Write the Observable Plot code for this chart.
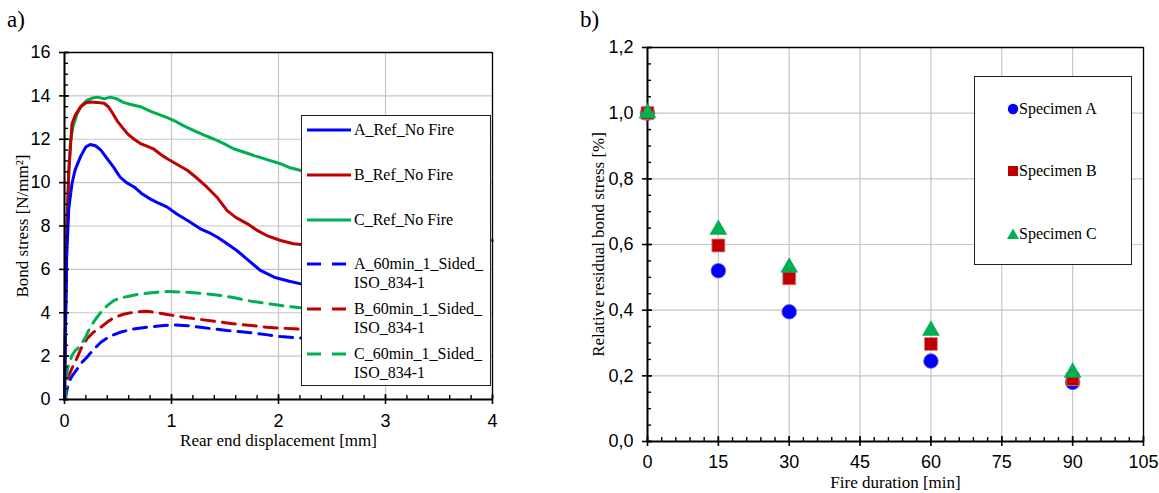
<!DOCTYPE html>
<html><head><meta charset="utf-8">
<script src="https://cdn.jsdelivr.net/npm/d3@7"></script>
<script src="https://cdn.jsdelivr.net/npm/@observablehq/plot@0.6"></script>
<style>
body{margin:0;background:#fff;}
#wrap{position:relative;width:1159px;height:493px;overflow:hidden;background:#fff;}
.pl{position:absolute;top:0;}
.panel{position:absolute;font-family:"Liberation Serif","Times New Roman",serif;font-size:23px;color:#000;line-height:1;}
.lg{position:absolute;background:#fff;border:1.5px solid #222;box-sizing:border-box;font-family:"Liberation Serif","Times New Roman",serif;font-size:16px;color:#000;}
.lg .t{position:absolute;line-height:19px;white-space:nowrap;}
.lg svg{position:absolute;overflow:visible;}
</style>
</head><body>
<div id="wrap"></div>
<script>
const serif = '"Liberation Serif","Times New Roman",serif';
const sans = '"Liberation Sans",Arial,sans-serif';
const BLUE = "#0000ff", RED = "#c00000", GREEN = "#00b050";
const GRID = "#c6c6c6";

// ---------- Chart a) data: [displacement mm, bond stress N/mm²] ----------
const A_ref = [[0,0],[0.01,3.5],[0.02,6.5],[0.04,8.8],[0.07,9.96],[0.1,10.6],[0.15,11.2],[0.2,11.65],[0.24,11.76],[0.29,11.7],[0.34,11.5],[0.4,11.1],[0.46,10.7],[0.52,10.25],[0.58,10.0],[0.65,9.8],[0.72,9.5],[0.8,9.25],[0.88,9.05],[0.96,8.87],[1.05,8.55],[1.15,8.25],[1.27,7.87],[1.35,7.7],[1.43,7.48],[1.52,7.18],[1.61,6.87],[1.7,6.5],[1.83,5.95],[1.96,5.64],[2.1,5.45],[2.21,5.33],[2.5,5.0]];
const B_ref = [[0,0],[0.01,4],[0.02,7.5],[0.04,10.5],[0.07,12.7],[0.1,13.1],[0.15,13.5],[0.2,13.68],[0.24,13.72],[0.3,13.7],[0.37,13.66],[0.41,13.5],[0.45,13.2],[0.49,12.86],[0.54,12.55],[0.59,12.25],[0.65,12.0],[0.71,11.8],[0.77,11.68],[0.83,11.56],[0.9,11.3],[0.96,11.1],[1.05,10.85],[1.15,10.56],[1.24,10.2],[1.33,9.8],[1.43,9.3],[1.52,8.71],[1.6,8.4],[1.71,8.1],[1.8,7.8],[1.89,7.56],[2.02,7.33],[2.14,7.18],[2.21,7.15],[2.5,6.9]];
const C_ref = [[0,0],[0.01,4],[0.02,7.5],[0.04,10.5],[0.056,11.9],[0.08,12.6],[0.12,13.2],[0.16,13.55],[0.21,13.8],[0.26,13.9],[0.31,13.94],[0.37,13.86],[0.43,13.94],[0.49,13.86],[0.55,13.7],[0.62,13.6],[0.71,13.5],[0.8,13.3],[0.88,13.15],[0.96,13.0],[1.04,12.82],[1.11,12.63],[1.21,12.4],[1.3,12.2],[1.4,12.0],[1.49,11.8],[1.58,11.56],[1.68,11.4],[1.77,11.25],[1.9,11.05],[2.02,10.87],[2.1,10.7],[2.21,10.56],[2.6,9.9],[3.0,9.2],[3.5,8.3],[4.0,7.33]];
const A_60 = [[0,0],[0.01,0.1],[0.03,0.6],[0.056,0.95],[0.08,1.15],[0.12,1.41],[0.16,1.7],[0.21,1.95],[0.27,2.3],[0.34,2.64],[0.42,2.9],[0.52,3.1],[0.64,3.25],[0.77,3.33],[0.9,3.4],[1.02,3.44],[1.15,3.4],[1.27,3.33],[1.4,3.25],[1.52,3.18],[1.65,3.12],[1.77,3.06],[1.9,2.98],[2.02,2.9],[2.21,2.83],[2.5,2.7]];
const B_60 = [[0,0],[0.005,0.3],[0.02,0.7],[0.04,1.1],[0.08,1.55],[0.12,1.95],[0.16,2.4],[0.21,2.8],[0.27,3.1],[0.34,3.33],[0.4,3.57],[0.46,3.77],[0.55,3.93],[0.65,4.03],[0.77,4.07],[0.87,4.0],[0.96,3.92],[1.05,3.85],[1.15,3.77],[1.27,3.69],[1.4,3.61],[1.52,3.53],[1.64,3.46],[1.77,3.4],[1.89,3.33],[2.02,3.29],[2.14,3.26],[2.21,3.24],[2.5,3.1]];
const C_60 = [[0,0],[0.01,0.1],[0.02,0.8],[0.025,1.34],[0.045,1.7],[0.07,2.03],[0.1,2.25],[0.15,2.49],[0.2,2.9],[0.24,3.33],[0.29,3.7],[0.34,4.03],[0.4,4.33],[0.46,4.56],[0.52,4.68],[0.59,4.75],[0.68,4.84],[0.77,4.9],[0.87,4.95],[0.96,4.98],[1.08,4.96],[1.21,4.92],[1.33,4.87],[1.46,4.8],[1.58,4.7],[1.71,4.56],[1.83,4.47],[1.96,4.38],[2.08,4.3],[2.21,4.23],[2.5,4.1]];

const seriesNamesA = ["A_Ref_No Fire","B_Ref_No Fire","C_Ref_No Fire","A_60min_1_Sided_\nISO_834-1","B_60min_1_Sided_\nISO_834-1","C_60min_1_Sided_\nISO_834-1"];
const seriesDataA = [A_ref, B_ref, C_ref, A_60, B_60, C_60];
const seriesColorA = [BLUE, RED, GREEN, BLUE, RED, GREEN];
const seriesDashedA = [false, false, false, true, true, true];

const xDomA = [0, 4], yDomA = [0, 16];
const xTicksA = [0, 1, 2, 3, 4];
const yTicksA = [0, 2, 4, 6, 8, 10, 12, 14, 16];
const xTitleA = "Rear end displacement [mm]";
const yTitleA = "Bond stress [N/mm²]";

// ---------- Chart b) data ----------
const durations = [0, 15, 30, 60, 90];
const specA = [1.0, 0.52, 0.395, 0.245, 0.18];
const specB = [1.0, 0.597, 0.497, 0.297, 0.19];
const specC = [1.0, 0.645, 0.53, 0.338, 0.21];
const specNames = ["Specimen A", "Specimen B", "Specimen C"];
const xDomB = [0, 105], yDomB = [0, 1.2];
const xTicksB = [0, 15, 30, 45, 60, 75, 90, 105];
const yTicksB = [0, 0.2, 0.4, 0.6, 0.8, 1.0, 1.2];
const yTickLabelsB = ["0,0", "0,2", "0,4", "0,6", "0,8", "1,0", "1,2"];
const xTitleB = "Fire duration [min]";
const yTitleB = "Relative residual bond stress [%]";

const wrap = document.getElementById("wrap");

// common tick helpers
function tickMarks(xMinor, yMinor, xMajor, yMajor, pw, ph) {
  return [
    Plot.tickX(xMinor, {x: d => d, stroke: "#000", strokeWidth: 1.4, insetTop: ph - 4}),
    Plot.tickX(xMajor, {x: d => d, stroke: "#000", strokeWidth: 1.6, insetTop: ph - 5, insetBottom: -5}),
    Plot.tickY(yMinor, {y: d => d, stroke: "#000", strokeWidth: 1.4, insetRight: pw - 4}),
    Plot.tickY(yMajor, {y: d => d, stroke: "#000", strokeWidth: 1.6, insetRight: pw - 5, insetLeft: -5})
  ];
}

// ---------- Chart a) ----------
{
  const W = 580, H = 493, mL = 64, mR = 88, mT = 52, mB = 94;
  const pw = W - mL - mR, ph = H - mT - mB;
  const lines = seriesDataA.map((data, i) => Plot.line(data, {
    x: d => d[0], y: d => d[1], stroke: seriesColorA[i], strokeWidth: 3,
    strokeDasharray: seriesDashedA[i] ? "13,8" : null, curve: "linear"
  }));
  const chart = Plot.plot({
    width: W, height: H, marginLeft: mL, marginRight: mR, marginTop: mT, marginBottom: mB,
    x: {domain: xDomA}, y: {domain: yDomA},
    style: {background: "transparent", overflow: "visible", fontFamily: sans, color: "#000"},
    marks: [
      Plot.gridX(xTicksA, {stroke: GRID, strokeOpacity: 1, strokeWidth: 1.2}),
      Plot.gridY(yTicksA, {stroke: GRID, strokeOpacity: 1, strokeWidth: 1.2}),
      ...lines.slice(3), ...lines.slice(0, 3).reverse(),
      Plot.ruleX([xDomA[1]], {stroke: "#000", strokeWidth: 1.3}),
      Plot.ruleY([yDomA[1]], {stroke: "#000", strokeWidth: 1.3}),
      Plot.ruleX([xDomA[0]], {stroke: "#000", strokeWidth: 2}),
      Plot.ruleY([yDomA[0]], {stroke: "#000", strokeWidth: 2}),
      ...tickMarks(d3.range(0, 4.0001, 0.2), d3.range(0, 16.0001, 0.5), xTicksA, yTicksA, pw, ph),
      Plot.axisX(xTicksA, {tickSize: 0, tickPadding: 15, fontSize: 18, fontFamily: sans, label: null}),
      Plot.axisY(yTicksA, {tickSize: 0, tickPadding: 14, fontSize: 18, fontFamily: sans, label: null}),
      Plot.text([xTitleA], {text: d => d, frameAnchor: "bottom", textAnchor: "middle", lineAnchor: "middle", dy: 41, fontFamily: serif, fontSize: 17}),
      Plot.text([yTitleA], {text: d => d, frameAnchor: "left", textAnchor: "middle", lineAnchor: "middle", rotate: -90, dx: -42, fontFamily: serif, fontSize: 17})
    ]
  });
  chart.classList.add("pl");
  chart.style.left = "0px";
  wrap.appendChild(chart);
}

// ---------- Chart b) ----------
{
  const W = 579, H = 493, mL = 67, mR = 16, mT = 47, mB = 52;
  const pw = W - mL - mR, ph = H - mT - mB;
  const rows = (vals) => durations.map((t, i) => ({t, v: vals[i]}));
  const chart = Plot.plot({
    width: W, height: H, marginLeft: mL, marginRight: mR, marginTop: mT, marginBottom: mB,
    x: {domain: xDomB}, y: {domain: yDomB},
    style: {background: "transparent", overflow: "visible", fontFamily: sans, color: "#000"},
    marks: [
      Plot.gridX(xTicksB, {stroke: GRID, strokeOpacity: 1, strokeWidth: 1.2}),
      Plot.gridY(yTicksB, {stroke: GRID, strokeOpacity: 1, strokeWidth: 1.2}),
      Plot.ruleX([xDomB[1]], {stroke: "#000", strokeWidth: 1.3}),
      Plot.ruleY([yDomB[1]], {stroke: "#000", strokeWidth: 1.3}),
      Plot.ruleX([xDomB[0]], {stroke: "#000", strokeWidth: 2}),
      Plot.ruleY([yDomB[0]], {stroke: "#000", strokeWidth: 2}),
      ...tickMarks(d3.range(0, 105.001, 3), d3.range(0, 1.2001, 0.05), xTicksB, yTicksB, pw, ph),
      Plot.axisX(xTicksB, {tickSize: 0, tickPadding: 14, fontSize: 18, fontFamily: sans, label: null}),
      Plot.axisY(yTicksB, {tickSize: 0, tickPadding: 14, fontSize: 18, fontFamily: sans, label: null, tickFormat: (d, i) => yTickLabelsB[i]}),
      Plot.dot(rows(specA), {x: "t", y: "v", symbol: "circle", r: 7.3, fill: BLUE, stroke: "#6a5acd", strokeWidth: 0.8}),
      Plot.dot(rows(specB), {x: "t", y: "v", symbol: "square", r: 7.3, fill: RED, stroke: "#e08080", strokeWidth: 0.8}),
      Plot.dot(rows(specC), {x: "t", y: "v", symbol: "triangle", r: 6.6, fill: GREEN}),
      Plot.text([xTitleB], {text: d => d, frameAnchor: "bottom", textAnchor: "middle", lineAnchor: "middle", dy: 41, fontFamily: serif, fontSize: 17}),
      Plot.text([yTitleB], {text: d => d, frameAnchor: "left", textAnchor: "middle", lineAnchor: "middle", rotate: -90, dx: -49, fontFamily: serif, fontSize: 17})
    ]
  });
  chart.classList.add("pl");
  chart.style.left = "580px";
  wrap.appendChild(chart);
}

// ---------- panel labels ----------
for (const [txt, x] of [["a)", 7], ["b)", 580]]) {
  const d = document.createElement("div");
  d.className = "panel"; d.textContent = txt;
  d.style.left = x + "px"; d.style.top = "8px";
  wrap.appendChild(d);
}

// ---------- legend a) ----------
{
  const lg = document.createElement("div");
  lg.className = "lg";
  Object.assign(lg.style, {left: "301px", top: "115px", width: "190px", height: "271px"});
  const rowY = [14, 59, 104, 148, 193, 238];
  seriesNamesA.forEach((name, i) => {
    const svg = document.createElementNS("http://www.w3.org/2000/svg", "svg");
    svg.setAttribute("width", 46); svg.setAttribute("height", 6);
    svg.style.left = "5px"; svg.style.top = (rowY[i] - 3) + "px";
    const ln = document.createElementNS("http://www.w3.org/2000/svg", "line");
    ln.setAttribute("x1", 0); ln.setAttribute("x2", 44); ln.setAttribute("y1", 3); ln.setAttribute("y2", 3);
    ln.setAttribute("stroke", seriesColorA[i]); ln.setAttribute("stroke-width", 3);
    if (seriesDashedA[i]) ln.setAttribute("stroke-dasharray", "14,11");
    svg.appendChild(ln);
    lg.appendChild(svg);
    const parts = name.split("\n");
    parts.forEach((p, k) => {
      const t = document.createElement("div");
      t.className = "t"; t.textContent = p;
      t.style.left = "52px"; t.style.top = (rowY[i] - 10 + k * 19) + "px";
      lg.appendChild(t);
    });
  });
  wrap.appendChild(lg);
}

// ---------- legend b) ----------
{
  const lg = document.createElement("div");
  lg.className = "lg";
  Object.assign(lg.style, {left: "974px", top: "76px", width: "158px", height: "189px"});
  const rowY = [32, 94, 157];
  const cols = [BLUE, RED, GREEN];
  specNames.forEach((name, i) => {
    const svg = document.createElementNS("http://www.w3.org/2000/svg", "svg");
    svg.setAttribute("width", 12); svg.setAttribute("height", 12);
    svg.style.left = "32px"; svg.style.top = (rowY[i] - 6) + "px";
    let el;
    if (i === 0) {
      el = document.createElementNS("http://www.w3.org/2000/svg", "circle");
      el.setAttribute("cx", 6); el.setAttribute("cy", 6); el.setAttribute("r", 5.2);
    } else if (i === 1) {
      el = document.createElementNS("http://www.w3.org/2000/svg", "rect");
      el.setAttribute("x", 1); el.setAttribute("y", 1); el.setAttribute("width", 10); el.setAttribute("height", 10);
    } else {
      el = document.createElementNS("http://www.w3.org/2000/svg", "path");
      el.setAttribute("d", "M6,0.5L12,11L0,11Z");
    }
    el.setAttribute("fill", cols[i]);
    svg.appendChild(el);
    lg.appendChild(svg);
    const t = document.createElement("div");
    t.className = "t"; t.textContent = name;
    t.style.left = "44px"; t.style.top = (rowY[i] - 10) + "px";
    lg.appendChild(t);
  });
  wrap.appendChild(lg);
}
</script>
</body></html>
